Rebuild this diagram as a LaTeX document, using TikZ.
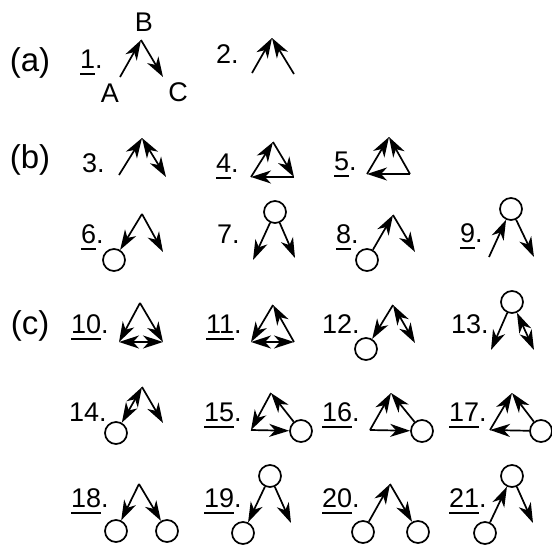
\documentclass[tikz,border=0pt]{standalone}
\usepackage{fontspec}
\setmainfont{Liberation Sans}
\usetikzlibrary{arrows.meta}
\tikzset{
    ed/.style={line width=1.7pt,-{Stealth[length=20pt,width=13pt,inset=6pt]}},
    bi/.style={line width=1.7pt,{Stealth[length=20pt,width=13pt,inset=6pt]}-{Stealth[length=20pt,width=13pt,inset=6pt]}},
    vtx/.style={circle,draw,line width=1.7pt,minimum size=22pt,inner sep=0pt},
    num/.style={anchor=base west,inner sep=0pt,font=\fontsize{27}{32}\selectfont},
    lbl/.style={inner sep=0pt,font=\fontsize{27}{32}\selectfont},
    part/.style={inner sep=0pt,font=\fontsize{33}{40}\selectfont}
}
\newcommand{\unum}[1]{\setbox0=\hbox{#1}\rlap{\rule[-7pt]{\wd0}{1.7pt}}#1}

\begin{document}
\begin{tikzpicture}[x=1pt,y=-1pt]
		\useasboundingbox (0,0) rectangle (552,544);

		% (a)
		\node[part] (pa) at (30,63) {(a)};

		\node[num] (n1) at (80,68) {\unum{1}.};
		\coordinate (g1a) at (120,77);
		\coordinate (g1b) at (141,40);
		\coordinate (g1c) at (163,77);
		\draw[ed] (g1a) -- (g1b);
		\draw[ed] (g1b) -- (g1c);
		\node[lbl] (la) at (110,93) {A};
		\node[lbl] (lb) at (144,22) {B};
		\node[lbl] (lc) at (178,92) {C};

		\node[num] (n2) at (216,63) {2.};
		\coordinate (g2a) at (252,73);
		\coordinate (g2b) at (272,38);
		\coordinate (g2c) at (294,74);
		\draw[ed] (g2a) -- (g2b);
		\draw[ed] (g2c) -- (g2b);

		% (b)
		\node[part] (pb) at (30,160) {(b)};

		\node[num] (n3) at (82,172) {3.};
		\coordinate (g3a) at (119,175);
		\coordinate (g3b) at (142,138);
		\coordinate (g3c) at (166,177);
		\draw[ed] (g3a) -- (g3b);
		\draw[bi] (g3b) -- (g3c);

		\node[num] (n4) at (216,172) {\unum{4}.};
		\coordinate (g4a) at (251,177);
		\coordinate (g4b) at (273,142);
		\coordinate (g4c) at (294,177);
		\draw[ed] (g4a) -- (g4b);
		\draw[ed] (g4b) -- (g4c);
		\draw[ed] (g4c) -- (g4a);

		\node[num] (n5) at (334,170) {\unum{5}.};
		\coordinate (g5a) at (367,174);
		\coordinate (g5b) at (389,137);
		\coordinate (g5c) at (410,174);
		\draw[ed] (g5a) -- (g5b);
		\draw[ed] (g5c) -- (g5b);
		\draw[ed] (g5c) -- (g5a);

		\node[num] (n6) at (81,243) {\unum{6}.};
		\node[vtx] (g6a) at (114,260) {};
		\coordinate (g6b) at (142,214);
		\coordinate (g6c) at (163,252);
		\draw[ed] (g6b) -- (g6a);
		\draw[ed] (g6b) -- (g6c);

		\node[num] (n7) at (217,243) {7.};
		\coordinate (g7a) at (253,260);
		\node[vtx] (g7b) at (275,212) {};
		\coordinate (g7c) at (295,258);
		\draw[ed] (g7b) -- (g7a);
		\draw[ed] (g7b) -- (g7c);

		\node[num] (n8) at (336,243) {\unum{8}.};
		\node[vtx] (g8a) at (367,260) {};
		\coordinate (g8b) at (393,215);
		\coordinate (g8c) at (415,252);
		\draw[ed] (g8a) -- (g8b);
		\draw[ed] (g8b) -- (g8c);

		\node[num] (n9) at (460,242) {\unum{9}.};
		\coordinate (g9a) at (489,257);
		\node[vtx] (g9b) at (511,209) {};
		\coordinate (g9c) at (534,257);
		\draw[ed] (g9a) -- (g9b);
		\draw[ed] (g9b) -- (g9c);

		% (c)
		\node[part] (pc) at (30,326) {(c)};

		\node[num] (n10) at (71,333) {\unum{10}.};
		\coordinate (g10a) at (119,342);
		\coordinate (g10b) at (140,303);
		\coordinate (g10c) at (163,342);
		\draw[ed] (g10b) -- (g10a);
		\draw[ed] (g10b) -- (g10c);
		\draw[bi] (g10a) -- (g10c);

		\node[num] (n11) at (206,333) {\unum{11}.};
		\coordinate (g11a) at (251,342);
		\coordinate (g11b) at (273,305);
		\coordinate (g11c) at (294,342);
		\draw[ed] (g11b) -- (g11a);
		\draw[ed] (g11c) -- (g11b);
		\draw[bi] (g11a) -- (g11c);

		\node[num] (n12) at (322,333) {12.};
		\node[vtx] (g12a) at (366,349) {};
		\coordinate (g12b) at (393,305);
		\coordinate (g12c) at (415,343);
		\draw[ed] (g12b) -- (g12a);
		\draw[bi] (g12b) -- (g12c);

		\node[num] (n13) at (451,333) {13.};
		\coordinate (g13a) at (491,350);
		\node[vtx] (g13b) at (512,302) {};
		\coordinate (g13c) at (534,350);
		\draw[ed] (g13b) -- (g13a);
		\draw[bi] (g13b) -- (g13c);

		\node[num] (n14) at (69,421) {14.};
		\node[vtx] (g14a) at (116,433) {};
		\coordinate (g14b) at (142,387);
		\coordinate (g14c) at (163,423);
		\draw[bi] (g14b) -- (g14a);
		\draw[ed] (g14b) -- (g14c);

		\node[num] (n15) at (204,421) {\unum{15}.};
		\coordinate (g15a) at (251,430);
		\coordinate (g15b) at (271,393);
		\node[vtx] (g15c) at (301,431) {};
		\draw[ed] (g15b) -- (g15a);
		\draw[ed] (g15a) -- (g15c);
		\draw[ed] (g15c) -- (g15b);

		\node[num] (n16) at (322,421) {\unum{16}.};
		\coordinate (g16a) at (370,430);
		\coordinate (g16b) at (391,393);
		\node[vtx] (g16c) at (422,431) {};
		\draw[ed] (g16a) -- (g16b);
		\draw[ed] (g16c) -- (g16b);
		\draw[ed] (g16a) -- (g16c);

		\node[num] (n17) at (449,421) {\unum{17}.};
		\coordinate (g17a) at (490,430);
		\coordinate (g17b) at (512,393);
		\node[vtx] (g17c) at (541,431) {};
		\draw[ed] (g17a) -- (g17b);
		\draw[ed] (g17c) -- (g17b);
		\draw[ed] (g17c) -- (g17a);

		\node[num] (n18) at (71,507) {\unum{18}.};
		\node[vtx] (g18a) at (116,531) {};
		\coordinate (g18b) at (139,484);
		\node[vtx] (g18c) at (167,531) {};
		\draw[ed] (g18b) -- (g18a);
		\draw[ed] (g18b) -- (g18c);

		\node[num] (n19) at (204,507) {\unum{19}.};
		\node[vtx] (g19a) at (243,533) {};
		\node[vtx] (g19b) at (270,476) {};
		\coordinate (g19c) at (291,523);
		\draw[ed] (g19b) -- (g19a);
		\draw[ed] (g19b) -- (g19c);

		\node[num] (n20) at (322,507) {\unum{20}.};
		\node[vtx] (g20a) at (363,532) {};
		\coordinate (g20b) at (390,484);
		\node[vtx] (g20c) at (418,532) {};
		\draw[ed] (g20a) -- (g20b);
		\draw[ed] (g20b) -- (g20c);

		\node[num] (n21) at (449,507) {\unum{21}.};
		\node[vtx] (g21a) at (485,533) {};
		\node[vtx] (g21b) at (512,476) {};
		\coordinate (g21c) at (533,523);
		\draw[ed] (g21a) -- (g21b);
		\draw[ed] (g21b) -- (g21c);

	\end{tikzpicture}
\end{document}
